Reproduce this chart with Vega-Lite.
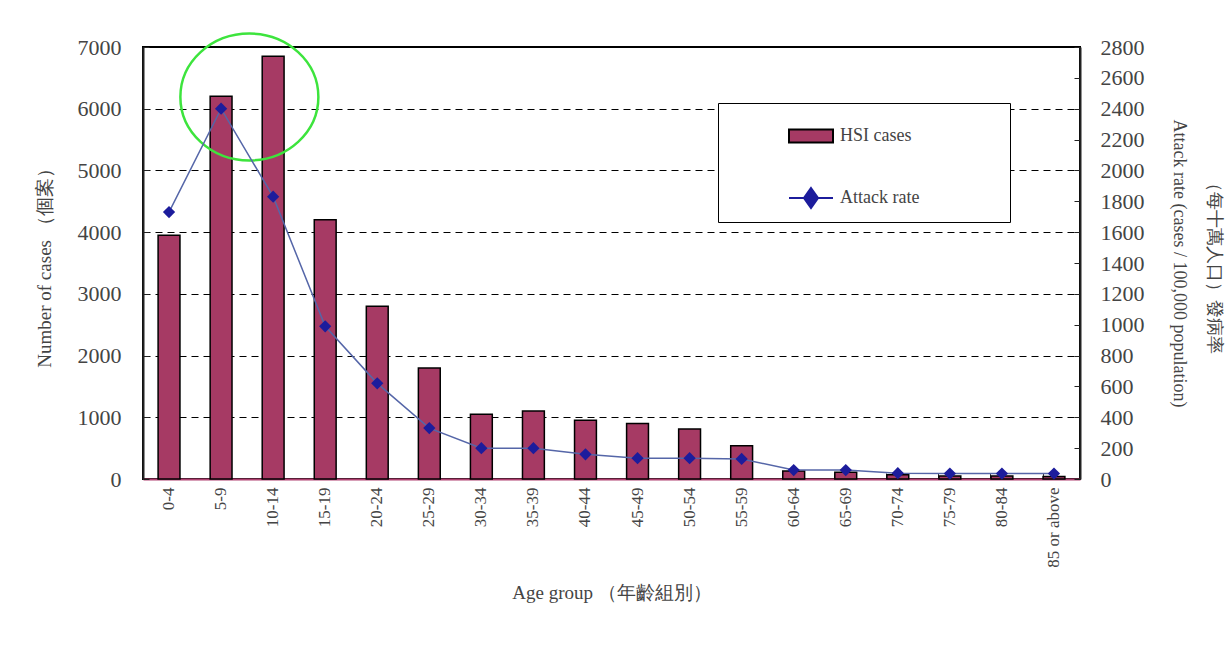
{
  "$schema": "https://vega.github.io/schema/vega-lite/v6.json",
  "width": 937,
  "height": 432,
  "autosize": {"type": "none"},
  "padding": {"left": 143, "top": 47, "right": 148, "bottom": 182},
  "background": "white",
  "config": {
    "font": "Liberation Serif",
    "view": {"stroke": "black", "strokeWidth": 2}
  },
  "data": {
    "values": [
      {"age": "0-4", "cases": 3950, "rate": 1730},
      {"age": "5-9", "cases": 6200, "rate": 2400},
      {"age": "10-14", "cases": 6850, "rate": 1830},
      {"age": "15-19", "cases": 4200, "rate": 990},
      {"age": "20-24", "cases": 2800, "rate": 620},
      {"age": "25-29", "cases": 1800, "rate": 330},
      {"age": "30-34", "cases": 1050, "rate": 200},
      {"age": "35-39", "cases": 1100, "rate": 200},
      {"age": "40-44", "cases": 950, "rate": 160},
      {"age": "45-49", "cases": 900, "rate": 135},
      {"age": "50-54", "cases": 810, "rate": 135},
      {"age": "55-59", "cases": 540, "rate": 130},
      {"age": "60-64", "cases": 130, "rate": 58},
      {"age": "65-69", "cases": 110, "rate": 58},
      {"age": "70-74", "cases": 70, "rate": 38},
      {"age": "75-79", "cases": 50, "rate": 35},
      {"age": "80-84", "cases": 50, "rate": 35},
      {"age": "85 or above", "cases": 40, "rate": 35}
    ]
  },
  "encoding": {
    "x": {
      "field": "age",
      "type": "nominal",
      "sort": null,
      "scale": {
        "domain": ["0-4", "5-9", "10-14", "15-19", "20-24", "25-29", "30-34", "35-39", "40-44", "45-49", "50-54", "55-59", "60-64", "65-69", "70-74", "75-79", "80-84", "85 or above"],
        "paddingInner": 0.58,
        "paddingOuter": 0.29
      },
      "axis": {
        "title": "Age group （年齡組別）",
        "titleFont": "Liberation Serif",
        "titleFontSize": 19,
        "titleFontWeight": "normal",
        "titleColor": "#444",
        "titlePadding": 16,
        "labelAngle": -90,
        "labelFontSize": 17,
        "labelColor": "#444",
        "labelPadding": 14,
        "domainColor": "#b04070",
        "domainWidth": 2,
        "tickColor": "#333",
        "tickSize": -6,
        "bandPosition": 0,
        "ticks": true,
        "grid": false
      }
    }
  },
  "layer": [
    {
      "layer": [
        {
          "mark": {"type": "bar", "stroke": "black", "strokeWidth": 1.5},
          "encoding": {
            "y": {
              "field": "cases",
              "type": "quantitative",
              "scale": {"domain": [0, 7000], "nice": false},
              "axis": {
                "title": "Number of cases （個案）",
                "titleFont": "Liberation Serif",
                "titleFontSize": 19,
                "titleFontWeight": "normal",
                "titleColor": "#444",
                "titlePadding": 23,
                "values": [0, 500, 1000, 1500, 2000, 2500, 3000, 3500, 4000, 4500, 5000, 5500, 6000, 6500, 7000],
                "format": "d",
                "labelFontSize": 22,
                "labelColor": "#444",
                "labelPadding": 28,
                "domainColor": "#222",
                "domainWidth": 2,
                "tickColor": "#222",
                "tickSize": -6,
                "grid": true,
                "gridColor": "black",
                "gridDash": [7, 5],
                "gridWidth": 1.2
              }
            },
            "color": {
              "datum": "HSI cases",
              "type": "nominal",
              "scale": {"domain": ["HSI cases", "Attack rate"], "range": ["#a63a64", "#1c1c9c"]},
              "legend": {
                "title": null,
                "orient": "none",
                "legendX": 575,
                "legendY": 56,
                "direction": "vertical",
                "padding": 10,
                "symbolOffset": 60,
                "rowPadding": 28,
                "labelFont": "Liberation Serif",
                "labelFontSize": 18,
                "labelColor": "#444",
                "labelOffset": 6,
                "labelLimit": 400,
                "labelExpr": "datum.label + '\u00a0\u00a0\u00a0\u00a0\u00a0\u00a0\u00a0\u00a0\u00a0\u00a0\u00a0\u00a0\u00a0\u00a0\u00a0\u2800'",
                "symbolSize": 1936,
                "symbolStrokeWidth": 2,
                "symbolOpacity": 1,
                "strokeColor": "black",
                "fillColor": "white"
              }
            }
          }
        },
        {
          "data": {"values": [{"age": "5-9", "cases": 6190}]},
          "mark": {
            "type": "point",
            "shape": "M-0.59,0A1,0.92 0 1,0 1.41,0A1,0.92 0 1,0 -0.59,0Z",
            "size": 19044,
            "filled": false,
            "color": "#3de43d",
            "strokeWidth": 2.5,
            "opacity": 1,
            "clip": false
          },
          "encoding": {
            "y": {"field": "cases", "type": "quantitative"}
          }
        }
      ]
    },
    {
      "layer": [
        {
          "mark": {"type": "line", "color": "#5566a8", "strokeWidth": 1.5},
          "encoding": {}
        },
        {
          "mark": {"type": "point", "shape": "diamond", "filled": true, "size": 150, "color": "#1c1c9c", "opacity": 1},
          "encoding": {
            "color": {"datum": "Attack rate", "type": "nominal", "legend": null}
          }
        },
        {
          "mark": {"type": "point", "size": 0, "filled": true},
          "encoding": {
            "shape": {
              "datum": "Attack rate",
              "type": "nominal",
              "scale": {"domain": ["HSI cases", "Attack rate"], "range": ["M-1,-0.3H1V0.3H-1Z", "M-1,0H1M0,-0.45L0.32,0L0,0.45L-0.32,0Z"]}
            },
            "stroke": {
              "datum": "Attack rate",
              "type": "nominal",
              "scale": {"domain": ["HSI cases", "Attack rate"], "range": ["black", "#1c1c9c"]}
            }
          }
        }
      ],
      "encoding": {
        "y": {
          "field": "rate",
          "type": "quantitative",
          "scale": {"domain": [0, 2800], "nice": false},
          "axis": {
            "orient": "right",
            "title": ["（每十萬人口）發病率", "Attack rate (cases / 100,000 population)"],
            "titleFont": "Liberation Serif",
            "titleFontSize": 18,
            "titleFontWeight": "normal",
            "titleColor": "#444",
            "titlePadding": 25,
            "titleLineHeight": 35,
            "values": [0, 200, 400, 600, 800, 1000, 1200, 1400, 1600, 1800, 2000, 2200, 2400, 2600, 2800],
            "format": "d",
            "labelFontSize": 22,
            "labelColor": "#444",
            "labelPadding": 26,
            "domainColor": "#222",
            "domainWidth": 2,
            "tickColor": "#222",
            "tickSize": -6,
            "grid": false
          }
        }
      }
    }
  ],
  "resolve": {"scale": {"y": "independent"}}
}
